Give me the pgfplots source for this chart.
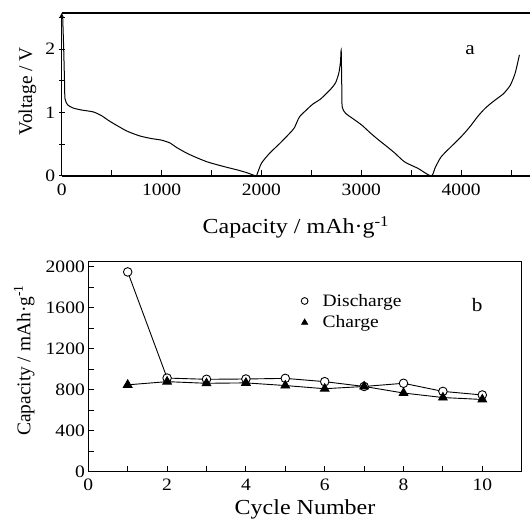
\documentclass[border=0pt]{standalone}
\usepackage{pgfplots}
\pgfplotsset{compat=1.18}
\usepackage{fontspec}
% the reference is slightly stretched horizontally
\setmainfont[FakeStretch=1.12]{Liberation Serif}
\newfontfamily\plainserif{Liberation Serif}
\newcommand\xlabfont{\fontsize{21.5}{21.5}\selectfont}

\pgfplotsset{
  panel/.style={
    scale only axis, anchor=south west,
    tick align=inside,
    major tick length=6bp, minor tick length=6bp,
    xtick pos=bottom, ytick pos=left,
    scaled ticks=false,
    every tick/.style={black, line width=1pt},
    axis line style={-, line width=1.3pt},
    tick label style={font=\fontsize{17.5}{17.5}\selectfont},
    xticklabel style={yshift=-4bp},
    xlabel style={font=\xlabfont, anchor=center},
    ylabel style={font=\plainserif\fontsize{19.5}{19.5}\selectfont, anchor=center},
    /pgf/number format/assume math mode=true,
    /pgf/number format/1000 sep={},
    clip=false,
  },
}

\begin{document}
\begin{tikzpicture}[x=1bp,y=1bp]
% panel a: voltage profile
\begin{axis}[panel,
  at={(61.7bp,344bp)}, width=468.3bp, height=163bp,
  axis x line=box, axis y line=left,
  xmin=0, xmax=4690, ymin=0, ymax=2.57,
  xtick={0,1000,2000,3000,4000}, minor xtick={500,1500,2500,3500,4500},
  ytick={0,1,2}, minor ytick={0.5,1.5,2.5},
  xlabel={\xlabfont Capacity / mAh·g\textsuperscript{-1}},
  ylabel={Voltage / V},
  xlabel style={at={(axis description cs:0.5,-0.225)}},
  ylabel style={at={(axis description cs:-0.073,0.52)}},
]
\addplot[black, line width=1bp, smooth, tension=0.4] coordinates {
  (10,2.50) (20,2.0) (28,1.5) (33,1.22) (60,1.12) (117,1.07) (200,1.04)
  (317,1.01) (400,0.95) (484,0.86) (651,0.71) (785,0.63) (900,0.59)
  (1000,0.565) (1085,0.52) (1150,0.45) (1252,0.36) (1350,0.29) (1453,0.225)
  (1550,0.18) (1653,0.137) (1760,0.095) (1854,0.052) (1935,0.005)
  (1950,0.0) (2000,0.2) (2083,0.36) (2182,0.51) (2281,0.67) (2330,0.76)
  (2380,0.93) (2450,1.04) (2512,1.13) (2590,1.21) (2644,1.29) (2700,1.38)
  (2743,1.47) (2775,1.62) (2792,1.80) (2799,1.99)
  (2805,1.4) (2809,1.09) (2842,0.99) (2920,0.90) (3007,0.80) (3090,0.68)
  (3172,0.57) (3260,0.46) (3337,0.36) (3436,0.22) (3568,0.12) (3700,0.0)
  (3740,0.13) (3799,0.30) (3898,0.46) (3970,0.57) (4030,0.67) (4100,0.80)
  (4162,0.93) (4230,1.05) (4294,1.14) (4360,1.22) (4426,1.30) (4492,1.43)
  (4541,1.62) (4584,1.91)
};
\node[font=\fontsize{19}{19}\selectfont] at (axis cs:4090,1.98) {a};
\end{axis}

% panel b: cycling
\begin{axis}[panel,
  at={(88.3bp,48.3bp)}, width=433.4bp, height=210bp,
  xmin=0, xmax=11, ymin=0, ymax=2050,
  xtick={0,2,4,6,8,10}, minor xtick={1,3,5,7,9},
  ytick={0,400,800,1200,1600,2000}, minor ytick={200,600,1000,1400,1800},
  xlabel={Cycle Number},
  ylabel={Capacity / mAh·g\textsuperscript{-1}},
  xlabel style={at={(axis description cs:0.5,-0.18)}},
  ylabel style={at={(axis description cs:-0.148,0.53)}},
  legend style={at={(axis cs:5.4,1561)}, anchor=west, draw=none, fill=none,
    font=\fontsize{17.5}{17.5}\selectfont, row sep=4bp,
    inner sep=0bp, cells={anchor=west}},
  legend cell align=left,
  legend image code/.code={
    \path[draw=none, fill=none] (0bp,0bp) -- (16bp,0bp);
    \draw[#1,only marks,mark size=3.4pt] plot coordinates {(0bp,0bp)};},
]
\addplot[black, line width=0.9bp, mark=*, mark size=4.3pt,
  mark options={fill=white, line width=0.9bp}]
  coordinates {
  (1,1950) (2,914) (3,902) (4,905) (5,911) (6,879) (7,832) (8,863) (9,784) (10,749)
};
\addlegendentry{Discharge}
\addplot[black, line width=0.9bp, mark=triangle*, mark size=5pt,
  mark options={fill=black}]
  coordinates {
  (1,848) (2,879) (3,863) (4,867) (5,841) (6,810) (7,832) (8,768) (9,724) (10,705)
};
\addlegendentry{Charge}
\node[font=\fontsize{19}{19}\selectfont] at (axis cs:9.87,1625) {b};
\end{axis}
\pgfresetboundingbox
\path[use as bounding box] (0,0) rectangle (530,520);
\end{tikzpicture}
\end{document}
